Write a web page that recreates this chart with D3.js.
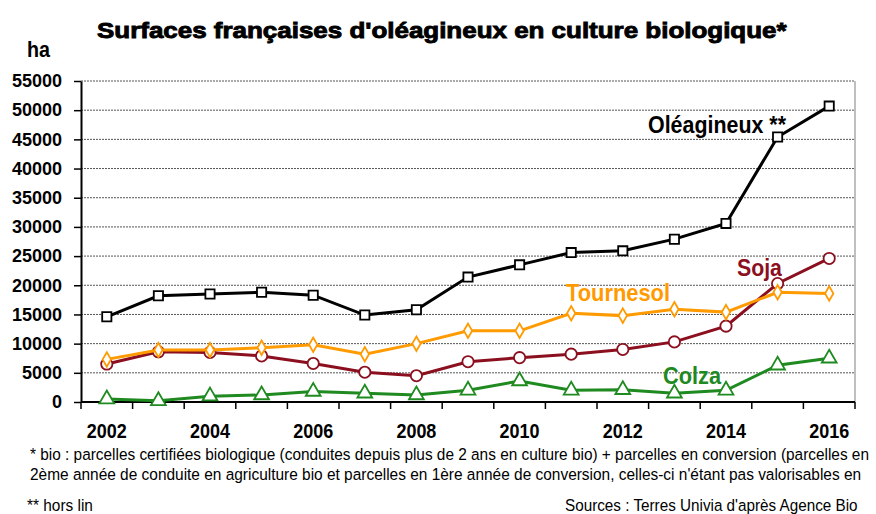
<!DOCTYPE html>
<html lang="fr">
<head>
    <meta charset="UTF-8">
    <title>Surfaces françaises d'oléagineux en culture biologique</title>
    <script src="https://d3js.org/d3.v7.min.js"></script>
    <style>
        body { margin: 0; background: #fff; }
        svg { display: block; }
    </style>
</head>
<body>
<div id="chart"></div>
<script>
    // data (ha)
    var years = [2002, 2003, 2004, 2005, 2006, 2007, 2008, 2009, 2010, 2011, 2012, 2013, 2014, 2015, 2016];
    var oleagineux = [14600, 18200, 18500, 18800, 18300, 14900, 15800, 21400, 23500, 25600, 25900, 27900, 30600, 45400, 50700];
    var tournesol = [7300, 8900, 8900, 9300, 9800, 8200, 10000, 12200, 12200, 15200, 14800, 15900, 15400, 18800, 18600];
    var soja = [6500, 8600, 8500, 7900, 6600, 5100, 4500, 6900, 7600, 8200, 9000, 10300, 13000, 20300, 24600];
    var colza = [500, 200, 1000, 1200, 1800, 1500, 1200, 2000, 3600, 2000, 2100, 1500, 2000, 6300, 7500];
    var yTicks = [0, 5000, 10000, 15000, 20000, 25000, 30000, 35000, 40000, 45000, 50000, 55000];
    var xLabels = [2002, 2004, 2006, 2008, 2010, 2012, 2014, 2016];

    var W = 876, H = 514;
    var margin = {top: 81, right: 21, bottom: 112, left: 81};
    var width = W - margin.left - margin.right,
        height = H - margin.top - margin.bottom;
    var narrow = "'Liberation Sans Narrow', 'Arial Narrow', 'Liberation Sans', sans-serif";

    // squeeze/stretch a text horizontally so that it spans w pixels from (x, y)
    function fitText(sel) {
        sel.each(function (d) {
            var w0 = this.getComputedTextLength();
            d3.select(this)
                .attr("x", 0).attr("y", 0)
                .attr("transform", "translate(" + d.x + "," + d.y + ") scale(" + (d.w / w0) + ",1)");
        });
    }

    var svg = d3.select("#chart").append("svg")
        .attr("width", W)
        .attr("height", H);

    var g = svg.append("g")
        .attr("transform", "translate(" + margin.left + "," + margin.top + ")");

    var x = d3.scaleBand().domain(years).range([0, width]);
    var y = d3.scaleLinear().domain([0, 55000]).range([height, 0]);
    var cx = function (d, i) { return x(years[i]) + x.bandwidth() / 2; };

    // title
    svg.append("text")
        .datum({x: 97, y: 38, w: 690})
        .style("font-family", "'Liberation Sans', Arial, sans-serif")
        .style("font-weight", "bold")
        .style("font-size", "22px")
        .style("stroke", "#000").style("stroke-width", "0.9px")
        .text("Surfaces françaises d'oléagineux en culture biologique*")
        .call(fitText);

    svg.append("text")
        .datum({x: 27, y: 57, w: 23})
        .style("font-family", narrow)
        .style("font-weight", "bold")
        .style("font-size", "22px")
        .text("ha")
        .call(fitText);

    // grid lines
    g.append("g").selectAll("line")
        .data(yTicks.filter(function (d) { return d > 0; }))
        .enter().append("line")
        .attr("x1", 0).attr("x2", width)
        .attr("y1", function (d) { return y(d); })
        .attr("y2", function (d) { return y(d); })
        .style("stroke", "#555")
        .style("stroke-width", "1px")
        .style("stroke-dasharray", "2,1");

    // right border of plot
    g.append("line")
        .attr("x1", width).attr("x2", width)
        .attr("y1", 0).attr("y2", height)
        .style("stroke", "#aaa").style("stroke-width", "1.5px");

    // y axis
    var yAxis = g.append("g")
        .call(d3.axisLeft(y).tickValues(yTicks).tickFormat(d3.format("d"))
            .tickSize(7).tickSizeOuter(0).tickPadding(12));
    yAxis.select(".domain").style("stroke-width", "2px");
    yAxis.selectAll(".tick line").style("stroke-width", "1.5px");
    yAxis.selectAll("text")
        .style("font-family", "'Liberation Sans', Arial, sans-serif")
        .style("font-weight", "bold")
        .style("font-size", "18px")
        .attr("fill", "#000");

    // x axis: ticks between categories
    var xAxis = g.append("g")
        .attr("transform", "translate(0," + height + ")");
    xAxis.append("line")
        .attr("x1", 0).attr("x2", width)
        .style("stroke", "#000").style("stroke-width", "2px");
    xAxis.selectAll(".xt")
        .data(years.concat([null]))
        .enter().append("line")
        .attr("class", "xt")
        .attr("x1", function (d, i) { return i * x.step(); })
        .attr("x2", function (d, i) { return i * x.step(); })
        .attr("y1", 0).attr("y2", 7)
        .style("stroke", "#000").style("stroke-width", "1.5px");
    xAxis.selectAll(".xl")
        .data(xLabels.map(function (d) {
            return {text: d, x: x(d) + x.bandwidth() / 2 - 20, y: 36, w: 40};
        }))
        .enter().append("text")
        .attr("class", "xl")
        .style("font-family", narrow)
        .style("font-weight", "bold")
        .style("font-size", "21px")
        .text(function (d) { return d.text; })
        .call(fitText);

    var series = [
        {name: "Colza", values: colza, color: "#1f8a1f", marker: d3.symbolTriangle, size: 95},
        {name: "Soja", values: soja, color: "#8b0f1e", marker: d3.symbolCircle, size: 100},
        {name: "Tournesol", values: tournesol, color: "#ff9a00", marker: d3.symbolDiamond, size: 60},
        {name: "Oléagineux", values: oleagineux, color: "#000000", marker: d3.symbolSquare, size: 85}
    ];

    var line = d3.line()
        .x(cx)
        .y(function (d) { return y(d); });

    series.forEach(function (s) {
        g.append("path")
            .datum(s.values)
            .attr("d", line)
            .style("fill", "none")
            .style("stroke", s.color)
            .style("stroke-width", "3px");
        g.selectAll(".m-" + s.name)
            .data(s.values)
            .enter().append("path")
            .attr("d", d3.symbol().type(s.marker).size(s.size))
            .attr("transform", function (d, i) {
                return "translate(" + cx(d, i) + "," + y(d) + ")";
            })
            .style("fill", "#fff")
            .style("stroke", s.color)
            .style("stroke-width", "1.8px");
    });

    // series labels
    var labels = [
        {text: "Oléagineux **", color: "#000", x: 648, y: 133, w: 138},
        {text: "Soja", color: "#8b0f1e", x: 737, y: 276, w: 45},
        {text: "Tournesol", color: "#ff9a00", x: 566, y: 301, w: 104},
        {text: "Colza", color: "#1f8a1f", x: 663, y: 384, w: 58}
    ];
    svg.selectAll(".lab")
        .data(labels)
        .enter().append("text")
        .attr("class", "lab")
        .style("font-family", narrow)
        .style("font-weight", "bold")
        .style("font-size", "24.5px")
        .style("fill", function (d) { return d.color; })
        .text(function (d) { return d.text; })
        .call(fitText);

    // footnotes
    var notes = [
        {text: "* bio : parcelles certifiées biologique (conduites depuis plus de 2 ans en culture bio) + parcelles en conversion (parcelles en", x: 30, y: 460, w: 840},
        {text: "2ème année de conduite en agriculture bio et parcelles en 1ère année de conversion, celles-ci n'étant pas valorisables en", x: 30, y: 480, w: 832},
        {text: "** hors lin", x: 27, y: 511, w: 66},
        {text: "Sources : Terres Univia d'après Agence Bio", x: 565, y: 511, w: 293}
    ];
    svg.selectAll(".note")
        .data(notes)
        .enter().append("text")
        .attr("class", "note")
        .style("font-family", narrow)
        .style("font-size", "16.5px")
        .style("fill", "#000")
        .text(function (d) { return d.text; })
        .call(fitText);
</script>
</body>
</html>
